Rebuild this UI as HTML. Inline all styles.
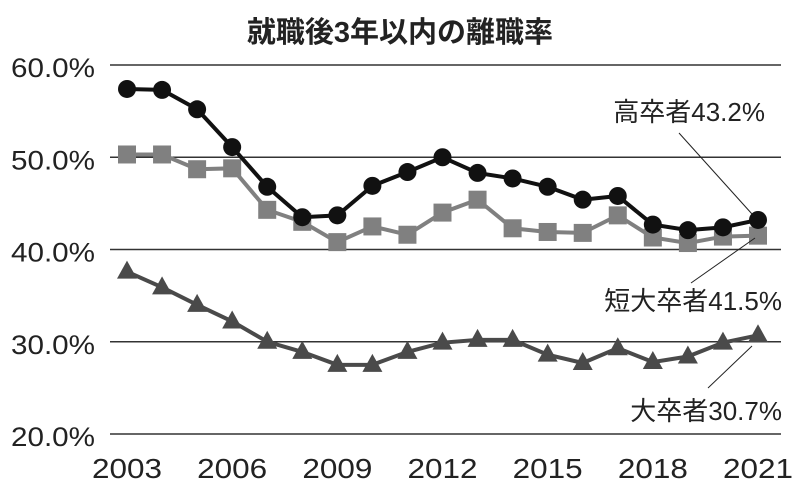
<!DOCTYPE html>
<html><head><meta charset="utf-8"><style>
html,body{margin:0;padding:0;background:#fff;}
svg{display:block;font-family:"Liberation Sans","Noto Sans CJK JP",sans-serif;}
</style></head><body>
<svg id="chart" width="800" height="486" viewBox="0 0 800 486">
<text x="400" y="42" text-anchor="middle" font-size="29" font-weight="bold" fill="#222" font-family="'Liberation Sans','Noto Sans CJK JP',sans-serif">就職後3年以内の離職率</text>
<g id="grid"></g><g id="series"></g>
<g fill="#222" font-size="26">
<text x="765" y="121" text-anchor="end">高卒者43.2%</text>
<line x1="679" y1="133" x2="752" y2="214" stroke="#222" stroke-width="1"/>
<text x="782" y="310" text-anchor="end">短大卒者41.5%</text>
<line x1="691" y1="283" x2="755" y2="238" stroke="#222" stroke-width="1"/>
<text x="782" y="420" text-anchor="end">大卒者30.7%</text>
<line x1="708" y1="388" x2="752" y2="346" stroke="#222" stroke-width="1"/>
</g>
</svg>
<script>
const years = [2003,2004,2005,2006,2007,2008,2009,2010,2011,2012,2013,2014,2015,2016,2017,2018,2019,2020,2021];
const highSchool = [57.4,57.3,55.2,51.1,46.8,43.5,43.7,46.9,48.4,50.0,48.3,47.7,46.8,45.4,45.8,42.7,42.1,42.4,43.2];
const juniorCollege = [50.3,50.3,48.7,48.8,44.3,43.0,40.8,42.5,41.6,44.0,45.4,42.3,41.9,41.8,43.7,41.3,40.7,41.4,41.5];
const university = [37.6,35.9,34.0,32.2,30.0,28.9,27.5,27.5,28.9,29.9,30.2,30.2,28.6,27.7,29.3,27.8,28.4,29.9,30.7];
const yTicks = [60,50,40,30,20];
const yTickLabels = ["60.0%","50.0%","40.0%","30.0%","20.0%"];
const xTickLabels = ["2003","2006","2009","2012","2015","2018","2021"];

const NS="http://www.w3.org/2000/svg";
const x = yr => 127 + (yr-2003)*(758-127)/18;
const y = v => 65 + (60-v)*(434-65)/40;
function mk(tag, attrs, parent){const e=document.createElementNS(NS,tag);for(const k in attrs)e.setAttribute(k,attrs[k]);parent.appendChild(e);return e;}
const grid=document.getElementById('grid');
yTicks.forEach((t,i)=>{
  const l=mk('line',{x1:110,x2:781,y1:y(t),y2:y(t),stroke:'#333','stroke-width':1.5},grid);
  
  
  const tx=mk('text',{x:95,y:y(t)+12,'text-anchor':'end','font-size':27,fill:'#222',textLength:84,lengthAdjust:'spacingAndGlyphs'},grid);
  tx.textContent=yTickLabels[i];
  
  
});
xTickLabels.forEach(lbl=>{
  const tx=mk('text',{x:x(+lbl),y:478,'text-anchor':'middle','font-size':28,fill:'#222',textLength:70,lengthAdjust:'spacingAndGlyphs'},grid);
  tx.textContent=lbl;
  
  
});
const sg=document.getElementById('series');
function drawSeries(vals,color,shape,name){
  const g=mk('g',{},sg);
  
  
  const pl=mk('polyline',{points:vals.map((v,i)=>x(years[i])+','+y(v)).join(' '),fill:'none',stroke:color,'stroke-width':4},g);
  
  
  vals.forEach((v,i)=>{
    const cx=x(years[i]),cy=y(v);let m;
    if(shape==='circle') m=mk('circle',{cx:cx,cy:cy,r:9,fill:color},g);
    else if(shape==='square') m=mk('rect',{x:cx-9,y:cy-9,width:18,height:18,fill:color},g);
    else m=mk('polygon',{points:`${cx},${cy-11} ${cx+10},${cy+7} ${cx-10},${cy+7}`,fill:color},g);
    
    
  });
}
drawSeries(juniorCollege,'#808080','square','junior-college-series');
drawSeries(highSchool,'#111','circle','high-school-series');
drawSeries(university,'#4a4a4a','triangle','university-series');
</script>
</body></html>
